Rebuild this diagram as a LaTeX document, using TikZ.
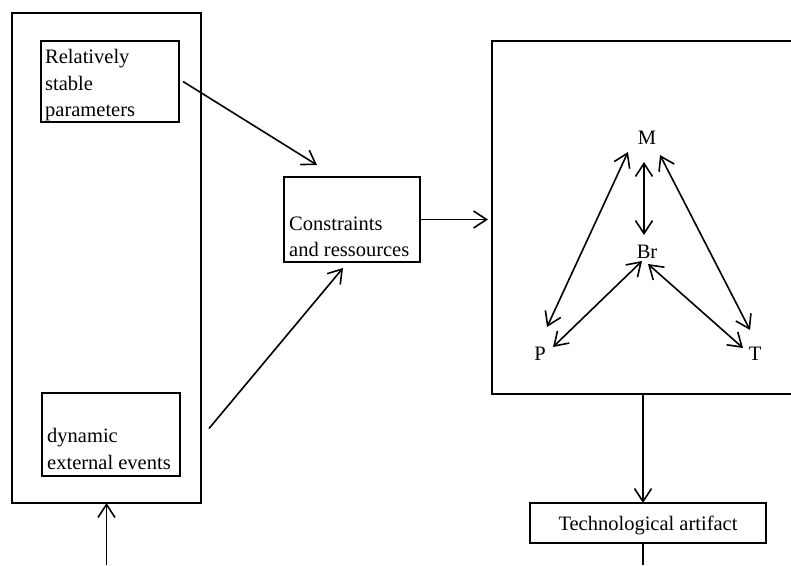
\documentclass[tikz,border=0pt]{standalone}
\usepackage{fontspec}
\setmainfont{Liberation Serif}
\usetikzlibrary{arrows.meta}
\begin{document}
\begin{tikzpicture}[x=1pt,y=-1pt,
  frame/.style={draw, line width=1.6pt, inner sep=0pt, outer sep=0pt},
  txt/.style={anchor=base west, inner sep=0pt, font=\fontsize{20.5}{25}\selectfont},
  sym/.style={anchor=base, inner sep=0pt, font=\fontsize{20.5}{25}\selectfont},
  barb/.tip={Straight Barb[length=13pt,width=17pt]},
  link/.style={line width=1.6pt, -barb},
  both/.style={line width=1.6pt, barb-barb},
  plain/.style={line width=1.6pt}]
\useasboundingbox (0,0) rectangle (791,565);
\clip (0,0) rectangle (791,565);

% environment with its two inputs
\node[frame, minimum width=189pt, minimum height=490pt] (env) at (106.5,258) {};
\node[frame, minimum width=138pt, minimum height=81pt] (stable) at (110,81.5) {};
\node[frame, minimum width=138pt, minimum height=83pt] (dyn) at (111,434.5) {};
\node[txt] (rel1) at (45,63) {Relatively};
\node[txt] (rel2) at (45,90) {stable};
\node[txt] (rel3) at (45,116) {parameters};
\node[txt] (dyn1) at (47,442) {dynamic};
\node[txt] (dyn2) at (47,469) {external events};

% constraints
\node[frame, minimum width=136pt, minimum height=85pt] (cons) at (352,219.5) {};
\node[txt] (cons1) at (289,230) {Constraints};
\node[txt] (cons2) at (289,256) {and ressources};

% system box with its four poles
\node[frame, minimum width=310pt, minimum height=353pt] (sys) at (647,217.5) {};
\node[sym] (M) at (647,144) {M};
\node[sym] (Br) at (647,258) {Br};
\node[sym] (P) at (540,360) {P};
\node[sym] (T) at (755,360) {T};

% output
\node[frame, minimum width=236pt, minimum height=40pt, text height=17pt, text depth=3pt,
      font=\fontsize{20.5}{25}\selectfont] (tech) at (648,523) {Technological artifact};

% flows
\draw[link] ([xshift=4pt]stable.east) -- ([shift={(-35,-12)}]cons.north);
\draw[link] ([shift={(29,-6)}]dyn.east) -- ([shift={(-9,6)}]cons.south);
\draw[link, shorten >=4pt] (cons.east) -- (cons.east -| sys.west);
\coordinate (drop) at ([xshift=-5pt]tech.north);
\draw[link] (drop |- sys.south) -- (drop);
\coordinate (out) at (643,565);
\draw[plain] (tech.south -| out) -- (out);
\coordinate (feed) at (106.5,565);
\draw[link] (feed) -- (env.south);

% relations between the poles
\draw[both] ([shift={(-19,8)}]M.base) -- ([shift={(7,-33)}]P.base);
\draw[both] ([shift={(-3,18)}]M.base) -- ([shift={(-3,-23)}]Br.base);
\draw[both] ([shift={(13,11)}]M.base) -- ([shift={(-5,-30)}]T.base);
\draw[both] ([shift={(-5,3)}]Br.base) -- ([shift={(13,-13)}]P.base);
\draw[both] ([shift={(1,6)}]Br.base) -- ([shift={(-12,-12)}]T.base);
\end{tikzpicture}
\end{document}
